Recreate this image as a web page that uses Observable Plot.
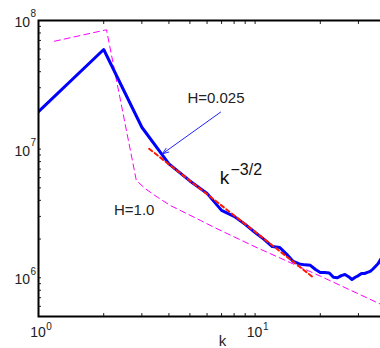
<!DOCTYPE html>
<html><head><meta charset="utf-8">
<script src="https://cdn.jsdelivr.net/npm/d3@7"></script>
<script src="https://cdn.jsdelivr.net/npm/@observablehq/plot@0.6"></script>
<style>
html,body{margin:0;padding:0;overflow:hidden;background:#fff;width:380px;height:348px}
#chart svg{max-width:none !important;}
</style>
</head><body><div id="chart"></div>
<script>
// Spectrum (H=0.025), thick blue line
const blueK = [1,2,3,4,5,6,7,8,9,10,11,12,13,14,15,16,17,18,19,20,21,22,23,24,25,26,27,28,29,30,31,32,33,34,35,36,37,38,39];
const blueE = [1.96e7,5.95e7,1.48e7,7.67e6,5.66e6,4.53e6,3.34e6,3.0e6,2.60e6,2.25e6,1.99e6,1.75e6,1.72e6,1.52e6,1.34e6,1.28e6,1.26e6,1.25e6,1.16e6,1.10e6,1.10e6,1.09e6,1.01e6,1.00e6,1.04e6,1.06e6,1.02e6,9.7e5,1.01e6,1.04e6,1.08e6,1.08e6,1.10e6,1.12e6,1.17e6,1.23e6,1.29e6,1.39e6,1.5e6];
// Spectrum (H=1.0), magenta dashed
const magentaK = [1.185,2.06,2.83,3.12,3.54,4.07,4.86,5.60,6.45,10,20,40];
const magentaE = [6.9e7,8.47e7,5.70e6,4.91e6,4.23e6,3.64e6,3.14e6,2.79e6,2.47e6,1.74e6,1.03e6,5.98e5];
// k^-3/2 reference, red dashed
const redK = [3.24,18.5];
const redE = [1.007e7,1.01e6];
// Ticks
const xMajorTicks = [1,10];
const xMinorTicks = [2,3,4,5,6,7,8,9,20,30,40];
const yMajorTicks = [1e6,1e7,1e8];
const yMinorTicks = [6e5,7e5,8e5,9e5,2e6,3e6,4e6,5e6,6e6,7e6,8e6,9e6,2e7,3e7,4e7,5e7,6e7,7e7,8e7,9e7];
const tickBase = "10";
const xLabel = "k";
// Annotations
const annText = ["H=0.025","H=1.0"];
const annK = [4.87,2.23];
const annE = [2.30e7,3.1e6];
const powBase = "k";
const powExp = "\u22123/2";
const powK = [6.87,7.70];
const powE = [5.4e6,6.24e6];
const arrowK = [6.93,3.73];
const arrowE = [1.94e7,9.19e6];

const blue = blueK.map((k,i)=>({k, e: blueE[i]}));
const magenta = magentaK.map((k,i)=>({k, e: magentaE[i]}));
const red = redK.map((k,i)=>({k, e: redE[i]}));
const ann = annText.map((t,i)=>({t, k: annK[i], e: annE[i]}));
const arrowRow = [{k1: arrowK[0], e1: arrowE[0], k2: arrowK[1], e2: arrowE[1]}];
const allTicksX = xMajorTicks.concat(xMinorTicks);
const allTicksY = yMajorTicks.concat(yMinorTicks);
const FONT = "'Liberation Sans', Arial, Helvetica, sans-serif";

const chart = Plot.plot({
  width: 406, height: 348,
  marginLeft: 38, marginRight: 0, marginTop: 20, marginBottom: 32,
  style: "font-family: " + FONT + "; background: white; max-width: none; overflow: visible;",
  x: {type: "log", domain: [1, 50]},
  y: {type: "log", domain: [5e5, 1e8]},
  marks: [
    Plot.axisX({anchor: "bottom", ticks: allTicksX, tickSize: -3, tickFormat: () => "", label: null, stroke: "#222"}),
    Plot.axisX({anchor: "top", ticks: allTicksX, tickSize: -3, tickFormat: () => "", label: null, stroke: "#222"}),
    Plot.axisY({anchor: "left", ticks: allTicksY, tickSize: -3, tickFormat: () => "", label: null, stroke: "#222"}),
    Plot.line(magenta, {x: "k", y: "e", stroke: "#ff00ff", strokeWidth: 1, strokeDasharray: "6,4", clip: true}),
    Plot.line(blue, {x: "k", y: "e", stroke: "#0000ff", strokeWidth: 3, strokeLinejoin: "round", clip: true}),
    Plot.line(red, {x: "k", y: "e", stroke: "#ff1a00", strokeWidth: 2, strokeDasharray: "4,3", clip: true}),
    Plot.frame({stroke: "black", strokeWidth: 2}),
    // y tick labels
    Plot.text(yMajorTicks, {y: d => d, frameAnchor: "left", text: () => tickBase, textAnchor: "end", dx: -8.5, dy: 2, fontSize: 14, fill: "#222"}),
    Plot.text(yMajorTicks, {y: d => d, frameAnchor: "left", text: d => String(Math.round(Math.log10(d))), textAnchor: "start", dx: -8, dy: -6.3, fontSize: 10, fill: "#222"}),
    // x tick labels
    Plot.text(xMajorTicks, {x: d => d, frameAnchor: "bottom", text: () => tickBase, textAnchor: "end", dx: 7.3, dy: 20.5, fontSize: 14, fill: "#222"}),
    Plot.text(xMajorTicks, {x: d => d, frameAnchor: "bottom", text: d => String(Math.round(Math.log10(d))), textAnchor: "start", dx: 7.8, dy: 13.4, fontSize: 10, fill: "#222"}),
    // x label
    Plot.text([xLabel], {frameAnchor: "bottom", text: d => d, textAnchor: "middle", lineAnchor: "bottom", dy: 29, fontSize: 15, fill: "#222"}),
    // annotations
    Plot.text(ann, {x: "k", y: "e", text: "t", textAnchor: "start", lineAnchor: "bottom", fontSize: 15, fill: "#222"}),
    Plot.text([powBase], {x: () => powK[0], y: () => powE[0], text: d => d, textAnchor: "start", lineAnchor: "bottom", fontSize: 19, fill: "#111"}),
    Plot.text([powExp], {x: () => powK[1], y: () => powE[1], text: d => d, textAnchor: "start", lineAnchor: "bottom", fontSize: 16, fill: "#111"}),
    Plot.arrow(arrowRow, {x1: "k1", y1: "e1", x2: "k2", y2: "e2", stroke: "#2222ff", strokeWidth: 1, headLength: 10, headAngle: 40})
  ]
});
chart.style.maxWidth = "none";
document.getElementById("chart").appendChild(chart);
</script>
</body></html>
